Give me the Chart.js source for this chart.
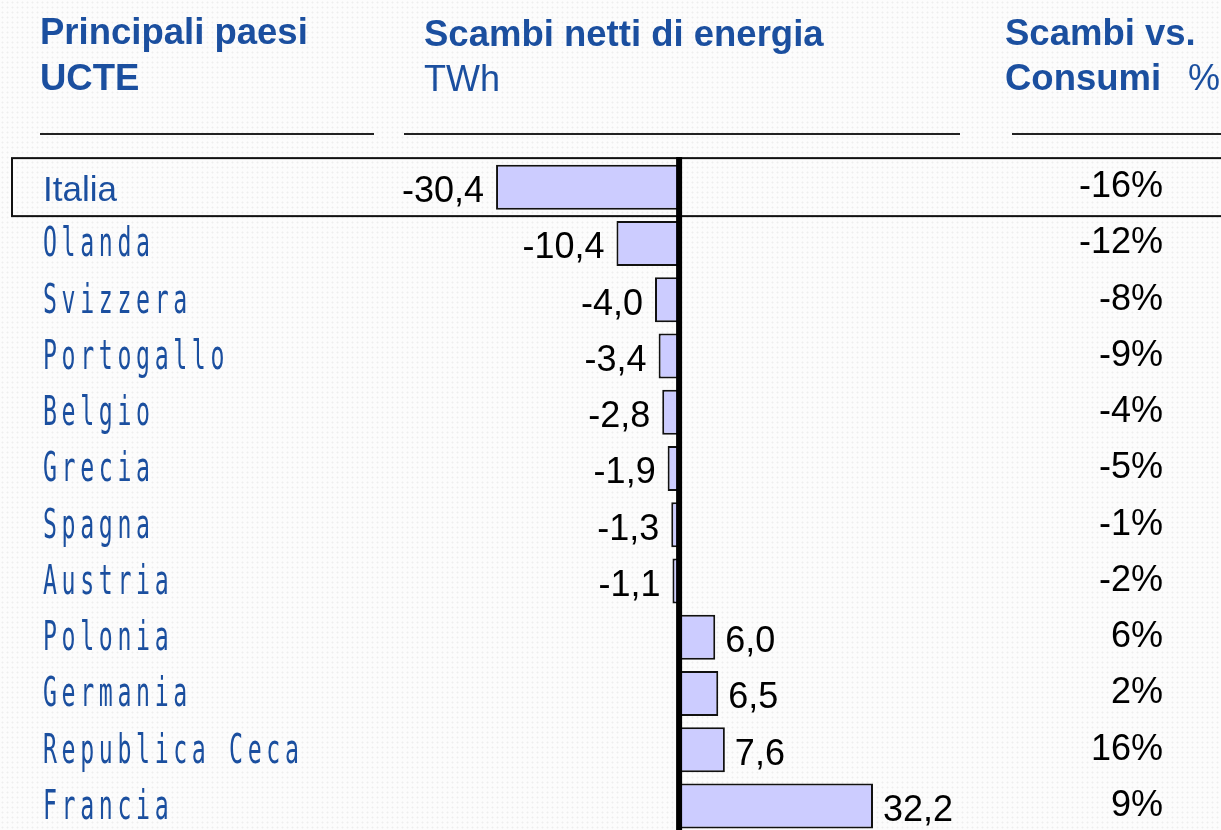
<!DOCTYPE html>
<html>
<head>
<meta charset="utf-8">
<script src="https://cdn.jsdelivr.net/npm/chart.js@4"></script>
<style>
  html, body {
    margin: 0;
    padding: 0;
    overflow: hidden;
    background-color: #fcfcfc;
    background-image: radial-gradient(#eeeeee 0.8px, transparent 1.2px);
    background-size: 5px 5px;
  }
  #wrap { position: relative; width: 1221px; height: 840px; }
</style>
</head>
<body>
<div id="wrap"><canvas id="scambiChart"></canvas></div>
<script>
const paesi = ["Italia", "Olanda", "Svizzera", "Portogallo", "Belgio", "Grecia",
  "Spagna", "Austria", "Polonia", "Germania", "Republica Ceca", "Francia"];
const scambiTWh = [-30.4, -10.4, -4.0, -3.4, -2.8, -1.9, -1.3, -1.1, 6.0, 6.5, 7.6, 32.2];
const scambiVsConsumi = [-16, -12, -8, -9, -4, -5, -1, -2, 6, 2, 16, 9];

const BLU = "#1b4f9f";
const fmt = (v) => v.toFixed(1).replace(".", ",");

// headers, lines, labels and the zero axis
const tablePlugin = {
  id: "table",
  beforeDatasetsDraw(chart) {
    const ctx = chart.ctx;
    const yScale = chart.scales.y;
    ctx.save();
    // header text
    ctx.fillStyle = BLU;
    ctx.textBaseline = "alphabetic";
    ctx.textAlign = "left";
    ctx.font = "bold 36.5px 'Liberation Sans', Arial, sans-serif";
    ctx.fillText("Principali paesi", 40, 44);
    ctx.fillText("UCTE", 40, 90);
    ctx.fillText("Scambi netti di energia", 424, 46);
    ctx.fillText("Scambi vs.", 1005, 45);
    ctx.fillText("Consumi", 1005, 90);
    ctx.font = "36px 'Liberation Sans', Arial, sans-serif";
    ctx.fillText("TWh", 424, 91);
    ctx.fillText("%", 1188, 90);

    // header underlines
    ctx.strokeStyle = "#222";
    ctx.lineWidth = 2;
    [[40, 374], [404, 960], [1012, 1230]].forEach(([a, b]) => {
      ctx.beginPath();
      ctx.moveTo(a, 134);
      ctx.lineTo(b, 134);
      ctx.stroke();
    });

    // box around Italia
    const yIt = yScale.getPixelForValue(0);
    ctx.lineWidth = 2;
    ctx.strokeStyle = "#111";
    ctx.strokeRect(12, yIt - 29, 1240, 58);

    // country labels
    paesi.forEach((p, i) => {
      const y = yScale.getPixelForValue(i);
      if (i === 0) {
        ctx.font = "35px 'Liberation Sans', Arial, sans-serif";
        ctx.fillStyle = BLU;
        ctx.fillText(p, 43, y + 14);
      } else {
        ctx.save();
        ctx.translate(43, y + 13);
        ctx.scale(0.58, 1);
        ctx.font = "40px 'DejaVu Sans Mono', monospace";
        ctx.letterSpacing = "8px";
        ctx.fillStyle = BLU;
        ctx.fillText(p, 0, 0);
        ctx.restore();
      }
    });

    // percentage column
    ctx.font = "36px 'Liberation Sans', Arial, sans-serif";
    ctx.fillStyle = "#000";
    ctx.textAlign = "right";
    scambiVsConsumi.forEach((v, i) => {
      const y = yScale.getPixelForValue(i);
      ctx.fillText(v + "%", 1163, y + 10);
    });
    ctx.restore();
  },
  afterDatasetsDraw(chart) {
    const ctx = chart.ctx;
    const xScale = chart.scales.x;
    const meta = chart.getDatasetMeta(0);
    ctx.save();
    // value labels
    ctx.font = "36px 'Liberation Sans', Arial, sans-serif";
    ctx.fillStyle = "#000";
    ctx.textBaseline = "alphabetic";
    meta.data.forEach((bar, i) => {
      const v = scambiTWh[i];
      if (v < 0) {
        ctx.textAlign = "right";
        ctx.fillText(fmt(v), bar.x - 12, bar.y + 15);
      } else {
        ctx.textAlign = "left";
        ctx.fillText(fmt(v), bar.x + 10, bar.y + 15);
      }
    });
    // zero line
    const x0 = xScale.getPixelForValue(0);
    ctx.strokeStyle = "#000";
    ctx.lineWidth = 6;
    ctx.beginPath();
    ctx.moveTo(x0, chart.chartArea.top - 2);
    ctx.lineTo(x0, chart.height);
    ctx.stroke();
    ctx.restore();
  },
};

window.onload = () => {
  const ctx = document.getElementById("scambiChart");
  new Chart(ctx, {
    type: "bar",
    data: {
      labels: paesi,
      datasets: [
        {
          data: scambiTWh,
          backgroundColor: "#ccccff",
          borderColor: "#111",
          borderWidth: 2,
          borderSkipped: false,
          barPercentage: 0.8,
          categoryPercentage: 1,
        },
      ],
    },
    options: {
      indexAxis: "y",
      responsive: true,
      maintainAspectRatio: false,
      animation: false,
      layout: { padding: { left: 400, right: 261, top: 159, bottom: 6 } },
      plugins: {
        legend: { display: false },
        tooltip: { enabled: false },
      },
      scales: {
        x: { display: false, min: -46.35, max: 46.65 },
        y: { display: false },
      },
    },
    plugins: [tablePlugin],
  });
};
</script>
</body>
</html>
